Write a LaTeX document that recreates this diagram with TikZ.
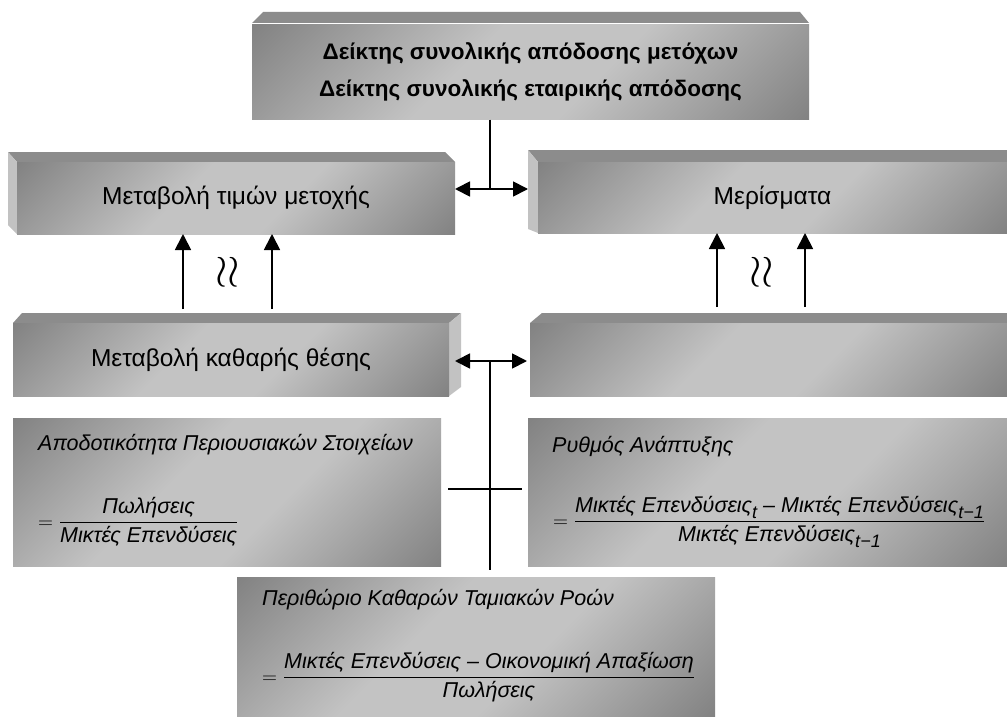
\documentclass[tikz,border=0pt]{standalone}
\usepackage{amsmath}
\usepackage{fontspec}
\setmainfont{Liberation Sans}
\usetikzlibrary{arrows.meta}
\definecolor{gdark}{HTML}{7C7C7C}
\definecolor{glight}{HTML}{C3C3C3}
\definecolor{gtop}{HTML}{8C8C8C}
\definecolor{gside}{HTML}{C2C2C2}
\pgfdeclareverticalshading{boxshade}{100bp}{color(0bp)=(gdark); color(12bp)=(gdark); color(42bp)=(glight); color(58bp)=(glight); color(88bp)=(gdark); color(100bp)=(gdark)}
\newcommand{\lowsub}[1]{\raisebox{-6pt}{\fontsize{18}{20}\selectfont #1}}
\begin{document}
\begin{tikzpicture}[x=1pt,y=-1pt,
  face/.style={shading=boxshade, shading angle=45, inner sep=0pt, outer sep=0pt},
  topface/.style={fill=gtop},
  sideface/.style={fill=gside},
  lbl/.style={font=\fontsize{24.5}{28}\selectfont},
  ftitle/.style={anchor=base west, font=\fontsize{21.5}{25}\selectfont\itshape, inner sep=0pt},
  feq/.style={anchor=base west, font=\fontsize{21.5}{25}\selectfont\itshape, inner sep=0pt},
  link/.style={line width=1.8pt},
  dbl/.style={line width=1.8pt, {Triangle[length=15pt,width=15pt]}-{Triangle[length=15pt,width=15pt]}},
  up/.style={line width=1.8pt, -{Triangle[length=16pt,width=16pt]}},
  wave/.style={font=\fontsize{24}{28}\selectfont, inner sep=0pt, scale=1.8}
]
\useasboundingbox (0,0) rectangle (1007,717);
\fill[white] (0,0) rectangle (1007,717);

% A
\fill[topface] (252,23) -- (263,12) -- (800,12) -- (809,23) -- cycle;
\node[face, minimum width=557pt, minimum height=95pt, align=center, font=\bfseries\fontsize{22.5}{36.7}\selectfont] (A) at (530.5,72) {Δείκτης συνολικής απόδοσης μετόχων\\Δείκτης συνολικής εταιρικής απόδοσης};

% B
\fill[topface] (8,152) -- (445,152) -- (455,162) -- (17,162) -- cycle;
\fill[sideface] (8,152) -- (17,162) -- (17,234) -- (8,225) -- cycle;
\node[face, minimum width=438pt, minimum height=72pt, lbl] (B) at (236,198) {Μεταβολή τιμών μετοχής};

% C
\fill[topface] (528,150) -- (1007,150) -- (1007,162) -- (538,162) -- cycle;
\fill[sideface] (528,150) -- (538,162) -- (538,233) -- (528,229) -- cycle;
\node[face, minimum width=469pt, minimum height=71pt, lbl] (C) at (772.5,197.5) {Μερίσματα};

% D
\fill[topface] (13,323) -- (22,313) -- (461,313) -- (449,323) -- cycle;
\fill[sideface] (449,323) -- (461,313) -- (461,387) -- (449,396) -- cycle;
\node[face, minimum width=436pt, minimum height=73pt, lbl] (D) at (231,359.5) {Μεταβολή καθαρής θέσης};

% E
\fill[topface] (530,323) -- (542,313) -- (1007,313) -- (1007,323) -- cycle;
\node[face, minimum width=477pt, minimum height=73pt] (E) at (768.5,359.5) {};

% flat formula boxes
\node[face, minimum width=428pt, minimum height=148pt] (F) at (227,492) {};
\node[face, minimum width=479pt, minimum height=148pt] (G) at (767.5,492) {};
\node[face, minimum width=478pt, minimum height=139pt] (H) at (476,646.5) {};

\node[ftitle] (Ft) at (38,450) {Αποδοτικότητα Περιουσιακών Στοιχείων};
\node[feq] (Fe) at (38,528) {$\displaystyle=\genfrac{}{}{0.8pt}{}{\text{Πωλήσεις}}{\text{Μικτές Επενδύσεις}}$};

\node[ftitle] (Gt) at (552,452) {Ρυθμός Ανάπτυξης};
\node[feq] (Ge) at (553,527) {$\displaystyle=\genfrac{}{}{0.8pt}{}{\text{Μικτές Επενδύσεις\lowsub{t} – Μικτές Επενδύσεις\lowsub{t−1}}}{\text{Μικτές Επενδύσεις\lowsub{t−1}}}$};

\node[ftitle] (Ht) at (262,605) {Περιθώριο Καθαρών Ταμιακών Ροών};
\node[feq] (He) at (262,683) {$\displaystyle=\genfrac{}{}{0.8pt}{}{\text{Μικτές Επενδύσεις – Οικονομική Απαξίωση}}{\text{Πωλήσεις}}$};

% connectors
\coordinate (j1) at (490,189);
\coordinate (Cl) at (528,150);
\draw[link] (j1 |- A.south) -- (j1);
\draw[dbl] (B.east |- j1) -- (Cl |- j1);

\coordinate (j2) at (490,361);
\coordinate (Dr) at (455,361);
\coordinate (El) at (527,361);
\draw[dbl] (Dr) -- (El);
\coordinate (j3) at (490,570);
\draw[link] (j2) -- (j3);
\coordinate (x1) at (448,489);
\coordinate (x2) at (522,489);
\draw[link] (x1) -- (x2);

\coordinate (uL1) at (183,309);
\coordinate (uL2) at (272,309);
\coordinate (uR1) at (717,307);
\coordinate (uR2) at (805,307);
\draw[up] (uL1) -- (uL1 |- B.south);
\draw[up] (uL2) -- (uL2 |- B.south);
\draw[up] (uR1) -- (uR1 |- C.south);
\draw[up] (uR2) -- (uR2 |- C.south);

\node[wave] (w1) at (228,272) {$\mathord{\wr}\mathord{\wr}$};
\node[wave] (w2) at (762,272) {$\mathord{\wr}\mathord{\wr}$};
\end{tikzpicture}
\end{document}
